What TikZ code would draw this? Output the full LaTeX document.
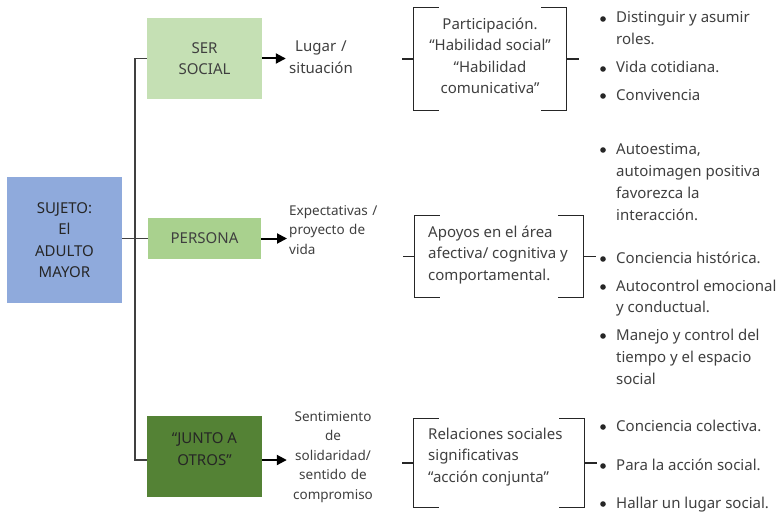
\documentclass[tikz,border=0pt]{standalone}
\usepackage{fontspec}
\setmainfont{Noto Sans}
\usepackage{xcolor}
\definecolor{sujetocolor}{HTML}{8FAADC}
\definecolor{sercolor}{HTML}{C5E0B4}
\definecolor{personacolor}{HTML}{A9D18E}
\definecolor{juntocolor}{HTML}{548235}
\definecolor{txtcolor}{HTML}{3F3F3F}
\definecolor{linecolor}{HTML}{404040}
\usepackage{tikz}
\usetikzlibrary{positioning, calc, arrows.meta}

\tikzset{
  box/.style={inner sep=0pt, align=center, text=txtcolor, font=\fontsize{15}{21.5}\selectfont},
  note/.style={inner sep=0pt, text=txtcolor, font=\fontsize{13.5}{19.5}\selectfont},
  brace/.style={inner sep=0pt},
  brtext/.style={inner sep=0pt, text=txtcolor, font=\fontsize{15}{21.5}\selectfont},
  item/.style={inner sep=0pt, anchor=west, text=txtcolor, font=\fontsize{15}{18}\selectfont, text height=11pt, text depth=3pt},
  trunk/.style={draw=linecolor, line width=1.6pt},
  link/.style={-{Triangle[length=10pt,width=10pt]}, line width=2pt},
  brline/.style={draw=black!85, line width=1.1pt}
}

\begin{document}
\begin{tikzpicture}[x=1pt, y=-1pt]
  \useasboundingbox (0,0) rectangle (783,516);

  % left column
  \node[box, fill=sujetocolor, minimum width=115pt, minimum height=126pt, text=black!85] (sujeto) at (64.5,240) {SUJETO:\\El\\ADULTO\\MAYOR};
  \node[box, fill=sercolor, minimum width=115pt, minimum height=81pt] (ser) at (204.5,58.5) {SER\\SOCIAL};
  \node[box, fill=personacolor, minimum width=113pt, minimum height=41pt] (persona) at (204.5,238.5) {PERSONA};
  \node[box, fill=juntocolor, minimum width=115pt, minimum height=81pt] (junto) at (204.5,456.5) {};
  \node[box, text=black!85] (juntotxt) at (204.5,449) {“JUNTO A\\OTROS”};

  \draw[trunk] (ser.west) -- ++(-12,0) |- ([yshift=-3.5pt]junto.west);
  \draw[trunk] (persona.west -| sujeto.east) -- (persona.west);

  % second column
  \node[box, text width=70pt] (lugar) at (321,57) {Lugar /\\situación};
  \node[note, text width=100pt, align=left, anchor=west] (expect) at (289,230) {Expectativas /\\proyecto de\\vida};
  \node[note, text width=92pt, align=center] (senti) at (333,457) {Sentimiento\\de\\solidaridad/\\sentido de\\compromiso};

  \draw[link] (ser.east) -- (ser.east -| lugar.west);
  \draw[link] (persona.east) -- ([xshift=-2pt]persona.east -| expect.west);
  \draw[link] ([yshift=-3.5pt]junto.east) -- ([yshift=-3.5pt]junto.east -| senti.west);

  % brackets
  \node[brace, minimum width=152pt, minimum height=102pt] (b1) at (490,59) {};
  \node[brace, minimum width=168pt, minimum height=81pt] (b2) at (499,256.5) {};
  \node[brace, minimum width=170pt, minimum height=88pt] (b3) at (499,463) {};

  \node[brtext, align=center] (participa) at (490,56) {Participación.\\“Habilidad social”\\“Habilidad\\comunicativa”};
  \node[brtext, align=left, anchor=west] (apoyos) at (428,255) {Apoyos en el área\\afectiva/ cognitiva y\\comportamental.};
  \node[brtext, align=left, anchor=west] (relacion) at (428,457) {Relaciones sociales\\significativas\\“acción conjunta”};

  \foreach \b in {b1,b2,b3} {
    \draw[brline] ([xshift=25pt]\b.north west) -- (\b.north west) -- (\b.south west) -- ([xshift=25pt]\b.south west);
    \draw[brline] ([xshift=-25pt]\b.north east) -- (\b.north east) -- (\b.south east) -- ([xshift=-25pt]\b.south east);
    \draw[brline] (\b.west) -- ++(-12,0);
    \draw[brline] (\b.east) -- ++(13,0);
  }

  % bullet lists
  \foreach \y/\txt/\dot in {
    19/Distinguir y asumir/1, 41/roles./0, 69/Vida cotidiana./1, 96/Convivencia/1,
    150/{Autoestima,}/1, 172/autoimagen positiva/0, 194/favorezca la/0, 216/interacción./0,
    259/Conciencia histórica./1, 287/Autocontrol emocional/1, 308/y conductual./0,
    336/Manejo y control del/1, 358/tiempo y el espacio/0, 380/social/0,
    427/Conciencia colectiva./1, 466/Para la acción social./1, 504/Hallar un lugar social./1%
  } {
    \node[item] (item\y) at (616,\y) {\txt};
    \ifnum\dot=1 \fill[black!85] (603,\y) circle (2.8pt); \fi
  }
\end{tikzpicture}
\end{document}
